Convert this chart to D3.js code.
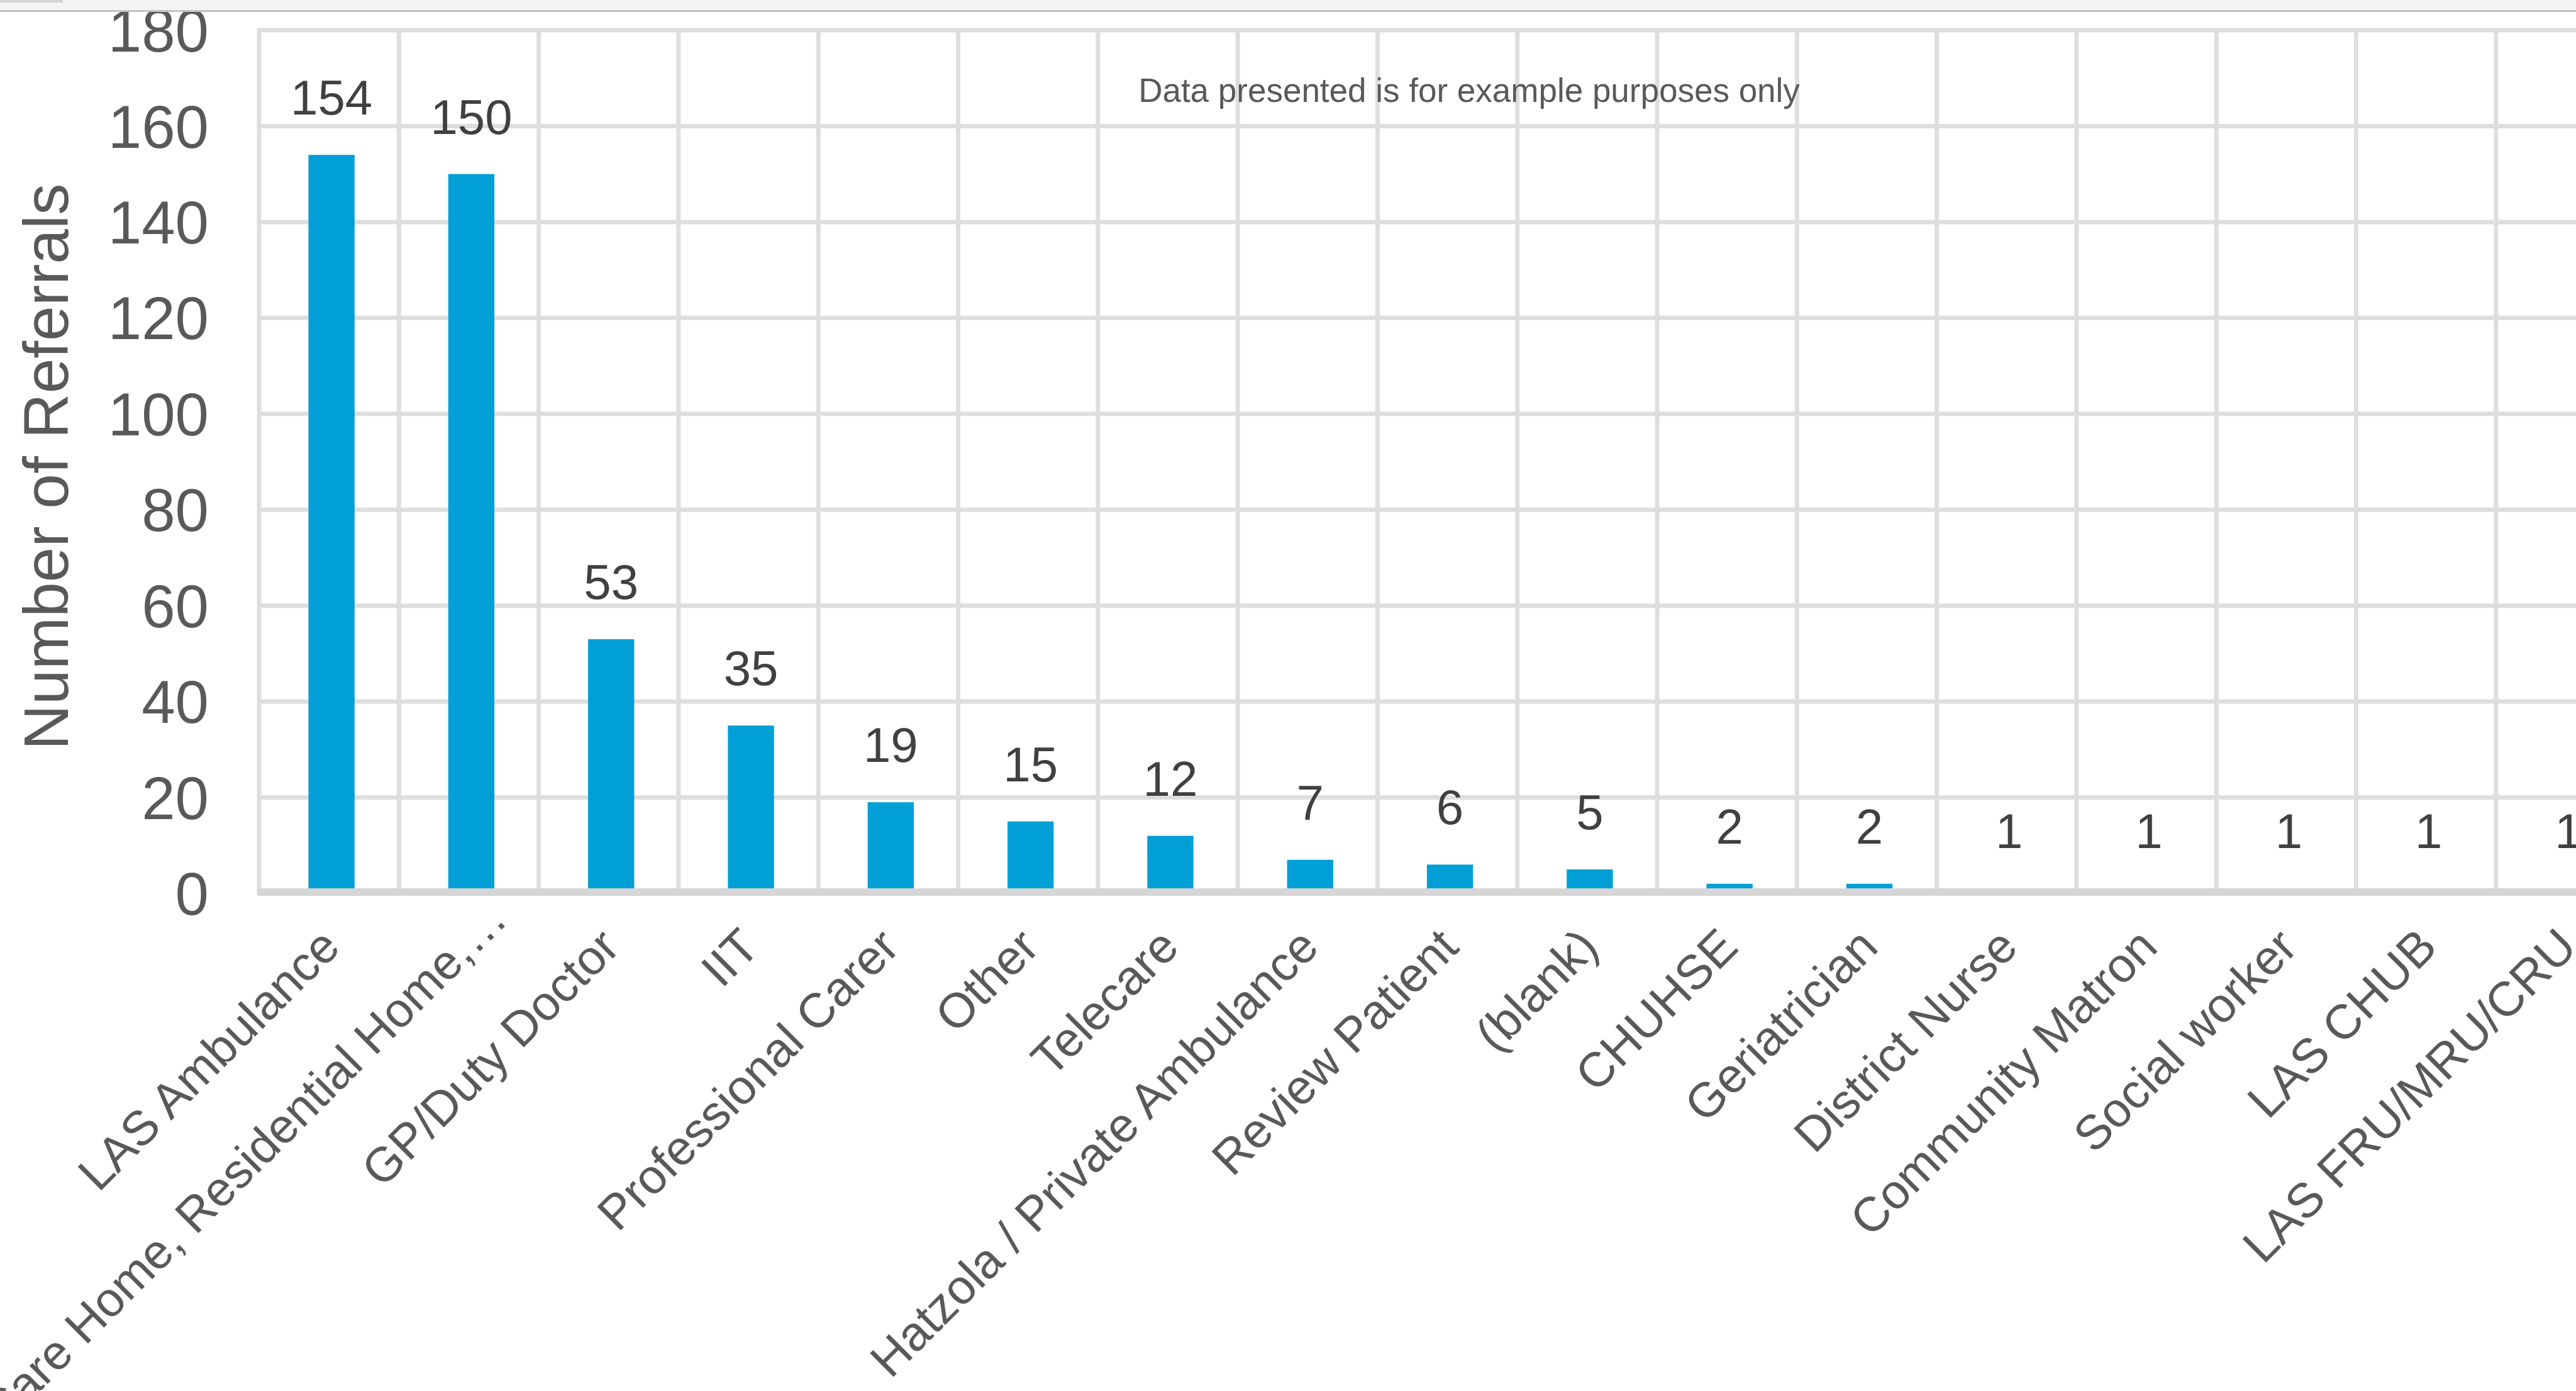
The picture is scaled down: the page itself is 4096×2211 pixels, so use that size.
<!DOCTYPE html>
<html>
<head>
<meta charset="utf-8">
<script src="https://d3js.org/d3.v7.min.js"></script>
<style>
  html, body { margin: 0; padding: 0; background: #fff; overflow: hidden; }
  text { font-family: "Liberation Sans", Arial, Helvetica, sans-serif; }
</style>
</head>
<body>
<div id="chart"></div>
<script>
// referral sources, in the order shown
var categories = [
  "LAS Ambulance",
  "Care Home, Residential Home,\u2026",
  "GP/Duty Doctor",
  "IIT",
  "Professional Carer",
  "Other",
  "Telecare",
  "Hatzola / Private Ambulance",
  "Review Patient",
  "(blank)",
  "CHUHSE",
  "Geriatrician",
  "District Nurse",
  "Community Matron",
  "Social worker",
  "LAS CHUB",
  "LAS FRU/MRU/CRU"
];
var referrals = [154, 150, 53, 35, 19, 15, 12, 7, 6, 5, 2, 2, 1, 1, 1, 1, 1];
var yTicks = [0, 20, 40, 60, 80, 100, 120, 140, 160, 180];
var yTitle = "Number of Referrals";
var note = "Data presented is for example purposes only";

var width = 4096; // window size
var height = 2211;
var plotLeft = 412;
var plotTop = 48;
var plotBottom = 1420;
var band = 222.3;

var gridColor = "#dedede";
var textColor = "#595959";

var data = categories.map(function (c, i) { return { name: c, value: referrals[i] }; });

var svg = d3.select("#chart").append("svg")
  .attr("width", width)
  .attr("height", height);

// scales
var x = d3.scaleBand()
  .domain(categories)
  .range([plotLeft, plotLeft + band * categories.length])
  .padding(0);

var y = d3.scaleLinear()
  .domain([0, 180])
  .range([plotBottom, plotTop]);

// horizontal grid
svg.append("g")
  .selectAll("line")
  .data(yTicks.filter(function (t) { return t > 0; }))
  .enter()
  .append("line")
  .attr("x1", plotLeft)
  .attr("x2", width + 10)
  .attr("y1", function (d) { return y(d); })
  .attr("y2", function (d) { return y(d); })
  .attr("stroke", gridColor)
  .attr("stroke-width", 7);

// vertical grid on band edges
var edges = categories.map(function (c) { return x(c); });
edges.push(x.range()[1]);
svg.append("g")
  .selectAll("line")
  .data(edges)
  .enter()
  .append("line")
  .attr("x1", function (d) { return d; })
  .attr("x2", function (d) { return d; })
  .attr("y1", y(180) - 3)
  .attr("y2", y(0))
  .attr("stroke", gridColor)
  .attr("stroke-width", 7);

// bars
var barW = x.bandwidth() * 0.33;
svg.append("g")
  .selectAll("rect")
  .data(data)
  .enter()
  .append("rect")
  .attr("x", function (d) { return x(d.name) + (x.bandwidth() - barW) / 2 + 4; })
  .attr("y", function (d) { return y(d.value); })
  .attr("width", barW)
  .attr("height", function (d) { return y(0) - y(d.value); })
  .attr("fill", "#009fd6");

// base line (sits over the foot of the bars)
svg.append("line")
  .attr("x1", plotLeft - 3)
  .attr("x2", width + 10)
  .attr("y1", y(0) - 2)
  .attr("y2", y(0) - 2)
  .attr("stroke", "#d6d6d6")
  .attr("stroke-width", 12);

// value labels
svg.append("g")
  .selectAll("text")
  .data(data)
  .enter()
  .append("text")
  .attr("x", function (d) { return x(d.name) + x.bandwidth() / 2 + 4; })
  .attr("y", function (d) { return y(d.value) - 64; })
  .attr("text-anchor", "middle")
  .attr("font-size", 78)
  .attr("fill", "#404040")
  .text(function (d) { return d.value; });

// y axis
var yAxis = svg.append("g")
  .attr("transform", "translate(" + plotLeft + ",0)")
  .call(d3.axisLeft(y).tickValues(yTicks).tickSize(0).tickPadding(80));
yAxis.select(".domain").remove();
yAxis.selectAll("text")
  .attr("font-size", 96)
  .attr("fill", textColor)
  .attr("dy", "0.35em");

// x axis labels, slanted
var xAxis = svg.append("g")
  .attr("transform", "translate(0," + plotBottom + ")")
  .call(d3.axisBottom(x).tickSize(0));
xAxis.select(".domain").remove();
xAxis.selectAll("text")
  .attr("y", null)
  .attr("dy", null)
  .attr("dx", function (d) { return d.slice(-1) === "\u2026" ? 62 : 0; }) // cut labels sit further out
  .attr("text-anchor", "end")
  .attr("transform", "translate(21,89) rotate(-45)")
  .attr("font-size", 77)
  .attr("fill", textColor);

// axis title
svg.append("text")
  .attr("transform", "translate(73,742) rotate(-90)")
  .attr("text-anchor", "middle")
  .attr("dy", "0.35em")
  .attr("font-size", 100)
  .attr("fill", textColor)
  .text(yTitle);

// note at the top
svg.append("text")
  .attr("x", 2336)
  .attr("y", 162)
  .attr("text-anchor", "middle")
  .attr("font-size", 53)
  .attr("fill", textColor)
  .text(note);

// window strip on top, hides the top of "180"
svg.append("rect")
  .attr("x", 0).attr("y", 0)
  .attr("width", width).attr("height", 17)
  .attr("fill", "#f4f4f4");
svg.append("rect")
  .attr("x", 0).attr("y", 0)
  .attr("width", 100).attr("height", 4)
  .attr("fill", "#d4d4d4");
svg.append("line")
  .attr("x1", 0).attr("x2", width)
  .attr("y1", 17.5).attr("y2", 17.5)
  .attr("stroke", "#c2c2c2")
  .attr("stroke-width", 3);
</script>
</body>
</html>
